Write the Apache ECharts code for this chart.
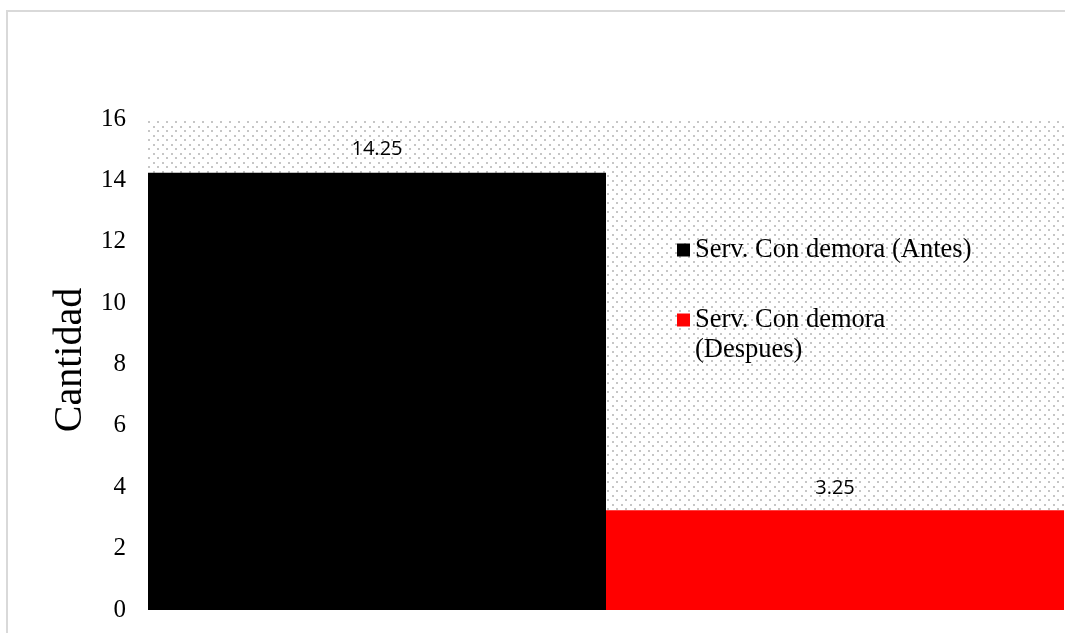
<!DOCTYPE html>
<html>
<head>
<meta charset="utf-8">
<script src="https://cdn.jsdelivr.net/npm/echarts@6/dist/echarts.min.js"></script>
<style>
  html, body { margin: 0; padding: 0; background: #fff; }
  #chart { width: 1065px; height: 633px; }
</style>
</head>
<body>
<div id="chart"></div>
<script>
// Chart data
const categories = ['Servicios'];
const seriesNames = ['Serv. Con demora (Antes)', 'Serv. Con demora (Despues)'];
const antes = [14.25];
const despues = [3.25];
const yMin = 0, yMax = 16, yStep = 2;

// Light dotted fill for the plot area
function dotPattern() {
  const c = document.createElement('canvas');
  c.width = 9; c.height = 9;
  const ctx = c.getContext('2d');
  ctx.fillStyle = '#ffffff';
  ctx.fillRect(0, 0, 9, 9);
  ctx.fillStyle = '#c6c6c6';
  ctx.fillRect(0, 0, 2, 2);
  ctx.fillRect(4, 4, 2, 2);
  return c;
}

const serif = 'Liberation Serif';
const legendText = { color: '#000', fontFamily: serif, fontSize: 26.5, lineHeight: 30 };
const chart = echarts.init(document.getElementById('chart'), null, { renderer: 'canvas' });

chart.setOption({
  animation: false,
  backgroundColor: '#ffffff',
  grid: {
    left: 148, right: 1, top: 119, bottom: 23,
    show: true,
    borderWidth: 0,
    backgroundColor: { image: dotPattern(), repeat: 'repeat' }
  },
  xAxis: {
    type: 'category',
    data: categories,
    axisLine: { show: false },
    axisTick: { show: false },
    axisLabel: { show: false },
    splitLine: { show: false }
  },
  yAxis: {
    type: 'value',
    min: yMin, max: yMax, interval: yStep,
    axisLine: { show: false },
    axisTick: { show: false },
    splitLine: { show: false },
    axisLabel: { color: '#000', fontFamily: serif, fontSize: 25, margin: 22 }
  },
  legend: [
    {
      data: [seriesNames[0]],
      orient: 'vertical',
      left: 677, top: 235,
      padding: 0,
      icon: 'rect', itemWidth: 13, itemHeight: 13, itemGap: 0,
      textStyle: legendText
    },
    {
      data: [seriesNames[1]],
      orient: 'vertical',
      left: 677, top: 275,
      padding: 0,
      icon: 'rect', itemWidth: 13, itemHeight: 13, itemGap: 0,
      // marker sits beside the first line of the wrapped name
      formatter: function (name) {
        const i = name.indexOf(' (');
        return '{t| }\n{t|' + name.slice(0, i) + '}\n{t|' + name.slice(i + 1) + '}';
      },
      textStyle: Object.assign({}, legendText, {
        rich: { t: { color: '#000', fontFamily: serif, fontSize: 26.5, lineHeight: 30 } }
      })
    }
  ],
  graphic: [
    {
      type: 'rect',
      shape: { x: 7, y: 11, width: 2000, height: 2000 },
      style: { fill: 'none', stroke: '#d9d9d9', lineWidth: 2 },
      silent: true
    },
    {
      type: 'text',
      x: 70, y: 360,
      rotation: Math.PI / 2,
      style: {
        text: 'Cantidad',
        fill: '#000',
        font: '40px "Liberation Serif"',
        align: 'center',
        verticalAlign: 'middle'
      }
    }
  ],
  series: [
    {
      name: seriesNames[0],
      type: 'bar',
      data: antes,
      barGap: '0%',
      barCategoryGap: '0%',
      itemStyle: { color: '#000000' },
      label: { show: true, position: 'top', distance: 13, color: '#000', fontFamily: 'Open Sans', fontSize: 20 }
    },
    {
      name: seriesNames[1],
      type: 'bar',
      data: despues,
      barGap: '0%',
      barCategoryGap: '0%',
      itemStyle: { color: '#ff0000' },
      label: { show: true, position: 'top', distance: 12, color: '#000', fontFamily: 'Open Sans', fontSize: 20 }
    }
  ]
});
</script>
</body>
</html>
